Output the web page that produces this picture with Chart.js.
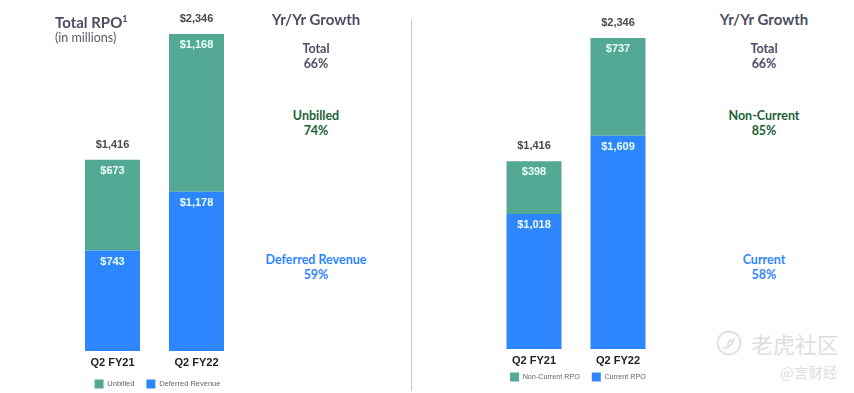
<!DOCTYPE html>
<html>
<head>
<meta charset="utf-8">
<script src="https://cdn.jsdelivr.net/npm/chart.js@4"></script>
<style>
html, body { margin: 0; width: 854px; height: 393px; overflow: hidden; background: #fff; }
canvas { position: absolute; top: 0; }
.t { position: absolute; font-family: Lato, sans-serif; white-space: nowrap; }
.c { transform: translateX(-50%); text-align: center; font-size: 12.5px; line-height: 14.5px; font-weight: 700; }
.h { transform: translateX(-50%); font-size: 15px; font-weight: 700; color: #4b4d63; }
.wm { position: absolute; font-family: "Noto Sans CJK SC"; color: #dedede; white-space: nowrap; }
sup { font-size: 9px; line-height: 0; }
</style>
</head>
<body>
<canvas id="leftChart" style="left:60px"></canvas>
<canvas id="rightChart" style="left:481px"></canvas>

<div class="t" style="left:55px;top:13px;font-size:15px;font-weight:700;color:#4b4d63">Total RPO<sup>1</sup></div>
<div class="t" style="left:55px;top:30px;font-size:12.5px;color:#5a5a66">(in millions)</div>

<div class="t h" style="left:316px;top:10px">Yr/Yr Growth</div>
<div class="t c" style="left:316px;top:42px;color:#4b4d63">Total<br>66%</div>
<div class="t c" style="left:316px;top:109px;color:#1c6138">Unbilled<br>74%</div>
<div class="t c" style="left:316px;top:253px;color:#2e86ff">Deferred Revenue<br>59%</div>

<div style="position:absolute;left:411px;top:20px;width:1px;height:371px;background:#c8c8c8"></div>

<div class="t h" style="left:764px;top:10px">Yr/Yr Growth</div>
<div class="t c" style="left:764px;top:42px;color:#4b4d63">Total<br>66%</div>
<div class="t c" style="left:764px;top:109px;color:#1c6138">Non-Current<br>85%</div>
<div class="t c" style="left:764px;top:253px;color:#2e86ff">Current<br>58%</div>

<svg style="position:absolute;left:716px;top:330px" width="26" height="26" fill="none" stroke="#e0e0e0" stroke-width="2">
  <circle cx="13" cy="13" r="11.5"/>
  <path d="M7 17 C10 19 16 17 18 8 M12 16 C12 12 14 10 16 10"/>
</svg>
<div class="wm" style="left:751px;top:328px;font-size:22px;line-height:30px">老虎社区</div>
<div class="wm" style="left:780px;top:362px;font-size:14.5px;line-height:20px">@言财经</div>

<script>
const categories = ["Q2 FY21", "Q2 FY22"];
const totals = [1416, 2346];

const deferredRevenue = [743, 1178];
const unbilled = [673, 1168];

const currentRpo = [1018, 1609];
const nonCurrentRpo = [398, 737];

const GREEN = "#53a994";
const BLUE = "#2e86ff";

Chart.defaults.font.family = "'Liberation Sans', Arial, sans-serif";

// draws the $ labels on the bars and the totals above them
const barLabels = {
    id: "barLabels",
    afterDatasetsDraw(chart) {
        const ctx = chart.ctx;
        const yScale = chart.scales.y;
        ctx.save();
        ctx.textAlign = "center";
        ctx.textBaseline = "middle";
        ctx.font = "bold 11px 'Liberation Sans', Arial, sans-serif";
        chart.data.datasets.forEach(function(ds, i) {
            chart.getDatasetMeta(i).data.forEach(function(bar, j) {
                ctx.fillStyle = "#eafff8";
                ctx.fillText("$" + ds.data[j].toLocaleString("en-US"), bar.x, bar.y + 11);
            });
        });
        chart.getDatasetMeta(0).data.forEach(function(bar, j) {
            ctx.fillStyle = "#4a4a4a";
            ctx.fillText("$" + totals[j].toLocaleString("en-US"), bar.x, yScale.getPixelForValue(totals[j]) - 15);
        });
        ctx.restore();
    }
};

function makeChart(id, lower, upper, lowerName, upperName, opts) {
    const canvas = document.getElementById(id);
    canvas.style.width = opts.width + "px";
    canvas.style.height = "410px";
    canvas.width = opts.width;
    canvas.height = 410;
    // the legend sits closer to the axis than chart.js would put it
    const moveLegend = {
        id: "moveLegend",
        afterLayout(chart) { chart.legend.top = opts.legendTop; }
    };
    return new Chart(canvas, {
        type: "bar",
        data: {
            labels: categories,
            datasets: [
                { label: lowerName, data: lower, backgroundColor: BLUE, barPercentage: 55 / 84, categoryPercentage: 1 },
                { label: upperName, data: upper, backgroundColor: GREEN, barPercentage: 55 / 84, categoryPercentage: 1 }
            ]
        },
        plugins: [barLabels, moveLegend],
        options: {
            responsive: false,
            animation: false,
            layout: { padding: { left: opts.padLeft, right: opts.padRight, top: opts.top, bottom: opts.padBottom } },
            plugins: {
                tooltip: { enabled: false },
                legend: {
                    position: "bottom",
                    reverse: true,
                    labels: { boxWidth: 9, boxHeight: 9, padding: 12, color: "#666", font: { size: opts.legendFont } }
                }
            },
            scales: {
                x: {
                    stacked: true,
                    grid: { display: false, drawTicks: false },
                    border: { display: false },
                    ticks: { color: "#222", padding: 5, font: { size: 11, weight: "bold" } },
                    afterFit: function(s) { s.height = 20; }
                },
                y: {
                    stacked: true,
                    position: "right",
                    min: 0,
                    max: 2346,
                    grid: { display: false, drawTicks: false },
                    border: { display: false },
                    ticks: { display: false },
                    afterFit: function(s) { s.width = opts.shift; }
                }
            }
        }
    });
}

makeChart("leftChart", deferredRevenue, unbilled, "Deferred Revenue", "Unbilled", {
    width: 190, top: 34, padLeft: 10.5, padRight: 5.5, shift: 6, padBottom: 8, legendTop: 367.5, legendFont: 7.5
});
makeChart("rightChart", currentRpo, nonCurrentRpo, "Current RPO", "Non-Current RPO", {
    width: 190, top: 38, padLeft: 11, padRight: 7, shift: 4, padBottom: 10, legendTop: 360.5, legendFont: 7.2
});
</script>
</body>
</html>
